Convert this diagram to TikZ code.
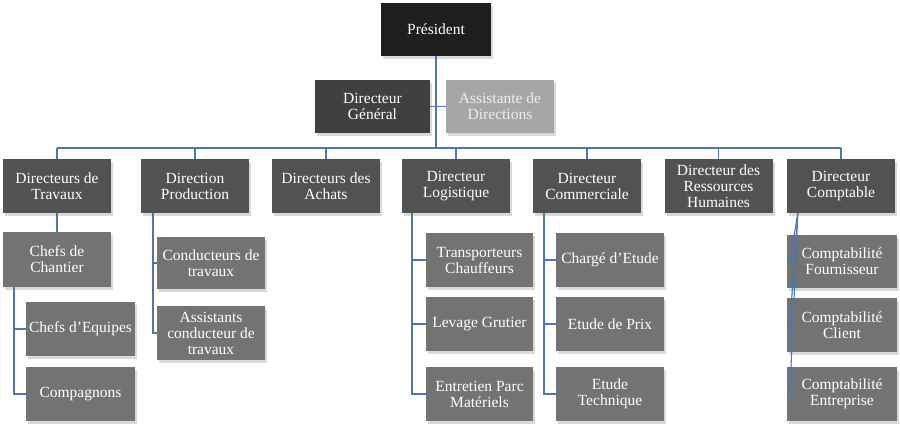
\documentclass[tikz,border=0pt]{standalone}
\usepackage{fontspec}
\setmainfont{Liberation Serif}
\usetikzlibrary{shadows}
\definecolor{linkblue}{HTML}{4A76B5}
\definecolor{presfill}{HTML}{1E1E1E}
\definecolor{dgfill}{HTML}{404040}
\definecolor{asstfill}{HTML}{A6A6A6}
\definecolor{asstext}{HTML}{EEEEEE}
\definecolor{rowtwo}{HTML}{525252}
\definecolor{rowthree}{HTML}{737373}
\begin{document}
\begin{tikzpicture}[x=1pt,y=-1pt,
  basebox/.style={inner sep=0pt, align=center, text=white,
    font=\fontsize{15.5}{16}\selectfont,
    drop shadow={opacity=0.3, shadow xshift=2pt, shadow yshift=-2.5pt}},
  toprow/.style={basebox, fill=presfill, minimum width=110pt, minimum height=53pt},
  dgbox/.style={basebox, fill=dgfill, minimum width=115pt, minimum height=53pt},
  asbox/.style={basebox, fill=asstfill, text=asstext, minimum width=108pt, minimum height=53pt},
  dirbox/.style={basebox, fill=rowtwo, minimum width=108pt, minimum height=54pt},
  subbox/.style={basebox, fill=rowthree, minimum width=108pt, minimum height=54pt},
  link/.style={draw=linkblue, line width=1.4pt}]
\useasboundingbox (0,0) rectangle (900,434);

% top
\node[toprow] (pres) at (436,29.5) {Président};
\node[dgbox] (dg) at (372.5,106.5) {Directeur\\Général};
\node[asbox] (asst) at (500,106.5) {Assistante de\\Directions};

% directors
\node[dirbox] (trav) at (57,186) {Directeurs de\\Travaux};
\node[dirbox] (prod) at (195,186) {Direction\\Production};
\node[dirbox] (ach) at (326,186) {Directeurs des\\Achats};
\node[dirbox] (logi) at (456,186) {Directeur\\Logistique};
\node[dirbox] (comm) at (587,186) {Directeur\\Commerciale};
\node[dirbox] (rh) at (718.5,186) {Directeur des\\Ressources\\Humaines};
\node[dirbox] (compt) at (841,186) {Directeur\\Comptable};

% Travaux
\node[subbox, minimum height=55pt] (chant) at (57,259.5) {Chefs de\\Chantier};
\node[subbox, minimum width=109pt] (equip) at (80.5,329) {Chefs d’Equipes};
\node[subbox, minimum width=109pt] (compa) at (80.5,394) {Compagnons};

% Production
\node[subbox, minimum height=52pt] (cond) at (211,263) {Conducteurs de\\travaux};
\node[subbox] (acond) at (211,333) {Assistants\\conducteur de\\travaux};

% Logistique
\node[subbox, minimum width=107pt] (trans) at (479.5,260) {Transporteurs\\Chauffeurs};
\node[subbox, minimum width=107pt] (lev) at (479.5,324) {Levage Grutier};
\node[subbox, minimum width=107pt] (entr) at (479.5,394) {Entretien Parc\\Matériels};

% Commerciale
\node[subbox] (charge) at (610,260) {Chargé d’Etude};
\node[subbox] (prix) at (610,324) {Etude de Prix};
\node[subbox] (tech) at (610,394) {Etude\\Technique};

% Comptable
\node[subbox, minimum width=110pt, minimum height=53pt] (cfour) at (842,261.5) {Comptabilité\\Fournisseur};
\node[subbox, minimum width=110pt] (ccli) at (842,325) {Comptabilité\\Client};
\node[subbox, minimum width=110pt] (cent) at (842,394) {Comptabilité\\Entreprise};

% connectors
\coordinate (busy) at (0,148);
\draw[link] (pres.south) -- (pres.south |- busy);
\draw[link] (dg.east) -- (asst.west);
\draw[link] (trav.north |- busy) -- (compt.north |- busy);
\foreach \n in {trav,prod,ach,logi,comm,rh,compt}
  \draw[link] (\n.north |- busy) -- (\n.north);

\draw[link] (trav.south) -- (chant.north);
\coordinate (tr0) at ([xshift=11pt]chant.south west);
\draw[link] (tr0) |- (equip.west);
\draw[link] (tr0) |- (compa.west);

\coordinate (pr0) at ([xshift=12pt]prod.south west);
\draw[link] (pr0) |- (cond.west);
\draw[link] (pr0) |- (acond.west);

\coordinate (lo0) at ([xshift=10pt]logi.south west);
\foreach \n in {trans,lev,entr}
  \draw[link] (lo0) |- (\n.west);

\coordinate (co0) at ([xshift=11pt]comm.south west);
\foreach \n in {charge,prix,tech}
  \draw[link] (co0) |- (\n.west);

\coordinate (cp0) at ([xshift=11pt]compt.south west);
\foreach \n in {cfour,ccli,cent}
  \draw[link, line width=1.1pt] (cp0) -- ([xshift=3pt]\n.west) -- (\n.west);
\end{tikzpicture}
\end{document}
